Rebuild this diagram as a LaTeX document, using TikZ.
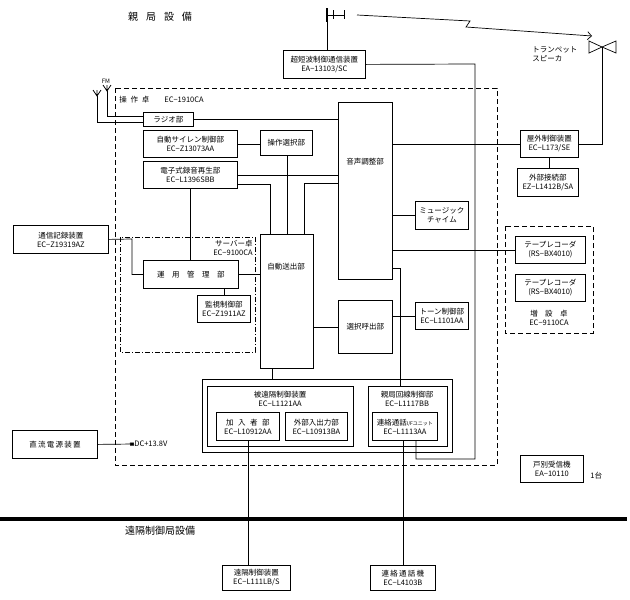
\documentclass[tikz,border=0pt]{standalone}
\usepackage{fontspec}
\setmainfont{Noto Sans CJK JP}
\usetikzlibrary{arrows.meta}
\begin{document}
\begin{tikzpicture}[x=1pt,y=-1pt,
  box/.style={draw,line width=0.8pt,anchor=north west,inner sep=0pt,align=center,font=\fontsize{7.5}{9}\selectfont},
  t/.style={font=\fontsize{7.5}{9}\selectfont,inner sep=0pt},
  ln/.style={line width=0.7pt},
  every path/.style={line width=0.7pt}]
\useasboundingbox (0,0) rectangle (630,600);
% helper: box at (x,y) of size w x h
\newcommand{\bx}[6]{\node[box,minimum width=#4pt,minimum height=#5pt] (#1) at (#2,#3) {#6};}
\node[t,font=\fontsize{10}{12}\selectfont] (title1) at (160,17) {親\hspace{0.8em}局\hspace{0.8em}設\hspace{0.8em}備};
\node[t,font=\fontsize{10}{12}\selectfont] (title2) at (160,531) {遠隔制御局設備};
% frames
\draw[dash pattern=on 5pt off 3pt] (115,88) rectangle (497,465);
\node[t,anchor=west] (sousa) at (119,100) {操\hspace{0.5em}作\hspace{0.5em}卓\hspace{2em}EC−1910CA};
\draw[dash pattern=on 5pt off 2pt on 1pt off 2pt] (120,237) rectangle (255,352);
\node[t,align=right,anchor=north east] (server) at (253,240) {サーバー卓\\EC−9100CA};
\draw[dash pattern=on 5pt off 3pt] (505,226) rectangle (593,333);
% boxes
\bx{chotan}{283}{50}{82}{28}{超短波制御通信装置\\EA−13103/SC}
\bx{radio}{143}{112}{50}{14}{ラジオ部}
\bx{siren}{143}{130}{94}{27}{自動サイレン制御部\\EC−Z13073AA}
\bx{sentaku}{260}{130}{52}{25}{操作選択部}
\bx{denshi}{143}{161}{94}{27}{電子式録音再生部\\EC−L1396SBB}
\bx{onsei}{338}{102}{54}{177}{}
\node[t] (onseit) at (365,162) {音声調整部};
\bx{music}{415}{201}{53}{28}{ミュージック\\チャイム}
\bx{tsushin}{13}{225}{95}{28}{通信記録装置\\EC−Z19319AZ}
\bx{unyo}{143}{260}{95}{28}{運\hspace{1em}用\hspace{1em}管\hspace{1em}理\hspace{1em}部}
\bx{kanshi}{197}{295}{53}{27}{監視制御部\\EC−Z1911AZ}
\bx{jido}{260}{234}{53}{134}{}
\node[t] (jidot) at (286,267) {自動送出部};
\bx{yobi}{338}{300}{54}{53}{選択呼出部}
\bx{tone}{415}{302}{53}{27}{トーン制御部\\EC−L1101AA}
\bx{okugai}{520}{130}{58}{27}{屋外制御装置\\EC−L173/SE}
\bx{gaibu}{517}{168}{61}{28}{外部接続部\\EZ−L1412B/SA}
\bx{tape1}{515}{236}{70}{27}{テープレコーダ\\(RS−BX4010)}
\bx{tape2}{515}{274}{70}{27}{テープレコーダ\\(RS−BX4010)}
\node[t,align=center] (zousetsu) at (549,318) {増\hspace{1em}設\hspace{1em}卓\\EC−9110CA};
\bx{outer}{202}{379}{250}{73}{}
\bx{hien}{207}{386}{146}{60}{}
\node[t,align=center] (hient) at (280,399) {被遠隔制御装置\\EC−L1121AA};
\bx{kanyu}{216}{412}{63}{28}{加\hspace{0.6em}入\hspace{0.6em}者\hspace{0.6em}部\\EC−L10912AA};
\bx{gaiio}{285}{412}{62}{28}{外部入出力部\\EC−L10913BA}
\bx{oya}{368}{386}{79}{60}{}
\node[t,align=center] (oyat) at (407,399) {親局回線制御部\\EC−L1117BB};
\bx{renraku}{372}{412}{65}{28}{連絡通話{\fontsize{5}{6}\selectfont I/Fユニット}\\EC−L1113AA}
\bx{dc}{12}{430}{85}{28}{直\,流\,電\,源\,装\,置}
\node[t,anchor=west] (dcv) at (134,444) {DC+13.8V};
\bx{kobetsu}{520}{455}{63}{27}{戸別受信機\\EA−10110}
\node[t,anchor=west] (dai) at (590,476) {1台};
\bx{enkaku}{222}{565}{68}{25}{遠隔制御装置\\EC−L111LB/S}
\bx{tsuwa}{370}{565}{65}{25}{連\,絡\,通\,話\,機\\EC−L4103B}
\node[t,align=left,anchor=west] (trumpet) at (532,54) {トランペット\\スピーカ};
% thick divider
\draw[line width=4pt] (0,519) -- (627,519);
% antenna top
\coordinate (ant) at (327,14);
\draw[line width=2pt] (327,8) -- (327,22);
\draw (333,10) -- (333,19) (344,10) -- (344,19) (327,15) -- (344,15);
\draw (ant) -- (chotan.north -| ant);
% zigzag radio link
\coordinate (z0) at (357,15); \coordinate (z1) at (470,21); \coordinate (z2) at (466,27);
\coordinate (z3) at (592,36);
\draw[-{Straight Barb[length=4pt]}] (z0) -- (z1) -- (z2) -- (z3);
% trumpet speaker
\coordinate (sp) at (602,47);
\draw (sp) -- (589,41) -- (589,53) -- cycle;
\draw (sp) -- (616,41) -- (616,53) -- cycle;
% FM antennas
\node[t,font=\fontsize{6}{7}\selectfont] (fm) at (106,81) {FM};
\coordinate (a1) at (107,88); \coordinate (a2) at (97,93);
\draw (103,85) -- (107,91) -- (111,85) (107,85)--(107,91);
\draw (93,90) -- (97,96) -- (101,90) (97,90)--(97,96);
\draw (107,91) |- (radio.west |- 0,116);
\draw (97,96) |- (radio.west |- 0,122);
% connectors
\draw (chotan.east) -- (475,64) -- (475,459) -- (416,459) -- (renraku.south -| 416,0);
\draw (radio.east) -- (onsei.west |- radio.east);
\draw (siren.east) -- (sentaku.west |- siren.east);
\draw (denshi.east |- 0,175) -- (onsei.west |- 0,175);
\draw (denshi.east |- 0,184) -| (jido.north -| 270,0);
\draw (sentaku.south -| 287,0) -- (jido.north -| 287,0);
\draw (onsei.west |- 0,183) -| (jido.north -| 304,0);
\draw (denshi.south -| 190,0) -- (unyo.north -| 190,0);
\draw (tsushin.east) -- (132,239) |- (unyo.west);
\draw (unyo.east) -- (jido.west |- unyo.east);
\draw (unyo.south -| 224,0) -- (kanshi.north -| 224,0);
\draw (onsei.east |- okugai.west) -- (okugai.west);
\draw (onsei.east |- music.west) -- (music.west);
\draw (onsei.east |- tape1.west) -- (tape1.west);
\draw (onsei.east |- 0,268) -| (oya.north -| 400,0);
\draw (jido.east |- yobi.west) -- (yobi.west);
\draw (yobi.east |- tone.west) -- (tone.west);
\draw (jido.south -| 272,0) -- (outer.north -| 272,0);
\draw (okugai.east) -| (sp);
\draw (okugai.south) -- (gaibu.north -| okugai.south);
\draw (kanyu.south -| 248,0) -- (enkaku.north -| 248,0);
\draw (renraku.south -| 403,0) -- (tsuwa.north -| 403,0);
\draw[-{Rectangle[length=4pt,width=3pt]}] (dc.east) -- (dcv.west);
\end{tikzpicture}
\end{document}
